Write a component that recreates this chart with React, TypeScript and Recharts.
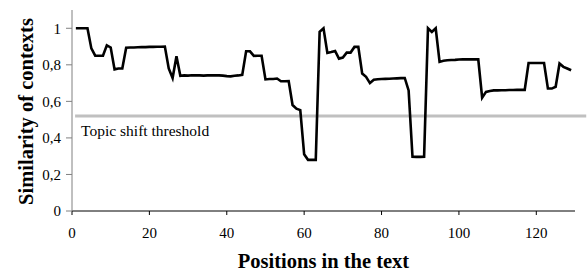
import React from 'react';
import { LineChart, Line, XAxis, YAxis, ReferenceLine } from 'recharts';

// similarity value at each position 1..129
const similarity = [
    1, 1, 1, 1, 0.89, 0.85, 0.85, 0.85, 0.907, 0.895,
    0.775, 0.78, 0.78, 0.894, 0.895, 0.895, 0.896, 0.897, 0.897, 0.898,
    0.898, 0.899, 0.899, 0.9, 0.78, 0.728, 0.847, 0.74, 0.742, 0.741,
    0.743, 0.742, 0.742, 0.741, 0.742, 0.743, 0.742, 0.742, 0.741, 0.738,
    0.737, 0.74, 0.742, 0.745, 0.874, 0.874, 0.849, 0.85, 0.85, 0.72,
    0.722, 0.722, 0.725, 0.71, 0.71, 0.711, 0.58, 0.56, 0.552, 0.31,
    0.28, 0.28, 0.28, 0.98, 1.0, 0.865, 0.87, 0.876, 0.834, 0.84,
    0.867, 0.867, 0.898, 0.898, 0.752, 0.734, 0.7, 0.718, 0.721, 0.722,
    0.723, 0.724, 0.725, 0.726, 0.727, 0.728, 0.66, 0.297, 0.296, 0.296,
    0.297, 1.0, 0.98, 1.0, 0.816, 0.822, 0.825, 0.826, 0.827, 0.829,
    0.83, 0.83, 0.83, 0.83, 0.83, 0.62, 0.652, 0.657, 0.66, 0.66,
    0.661, 0.661, 0.662, 0.662, 0.663, 0.663, 0.663, 0.81, 0.81, 0.81,
    0.81, 0.81, 0.67, 0.67, 0.68, 0.807, 0.789, 0.78, 0.77,
];

const xTicks = [0, 20, 40, 60, 80, 100, 120];
const yTicks = [0, 0.2, 0.4, 0.6, 0.8, 1];
const threshold = 0.52;
const thresholdSpan = [0.8, 132.9];

const data = similarity.map((v, i) => ({ pos: i + 1, sim: v }));

const FONT = "'Liberation Serif', 'Times New Roman', serif";

const fmtY = (v: number) => String(Math.round(v * 10) / 10).replace('.', ',');

const tickStyle = { fill: '#000', fontSize: 15, fontFamily: FONT };

export default function App() {
    return (
        <div style={{ position: 'absolute', left: 0, top: 0, background: '#fff', fontFamily: FONT }}>
            <LineChart
                width={587}
                height={274}
                data={data}
                margin={{ top: 10, right: 12, left: 0, bottom: 33 }}
                style={{ fontFamily: FONT }}
            >
                <XAxis
                    dataKey="pos"
                    type="number"
                    domain={[0, 130]}
                    ticks={xTicks}
                    height={30}
                    stroke="#000"
                    tickSize={4}
                    tickMargin={12}
                    tick={tickStyle}
                    label={{
                        content: ({ viewBox }: any) => (
                            <text
                                x={viewBox.x + viewBox.width / 2}
                                y={viewBox.y + 57}
                                textAnchor="middle"
                                fontSize={20.5}
                                fontWeight="bold"
                                style={{ fontFamily: FONT }}
                                fill="#000"
                            >
                                Positions in the text
                            </text>
                        ),
                    }}
                />
                <YAxis
                    type="number"
                    domain={[0, 1.1]}
                    ticks={yTicks}
                    width={72}
                    stroke="#808080"
                    tickSize={6}
                    tickMargin={5}
                    tickFormatter={fmtY}
                    tick={tickStyle}
                    label={{
                        content: ({ viewBox }: any) => {
                            const cx = 33;
                            const cy = viewBox.y + viewBox.height / 2 + 1;
                            return (
                                <text
                                    x={cx}
                                    y={cy}
                                    transform={`rotate(-90, ${cx}, ${cy})`}
                                    textAnchor="middle"
                                    fontSize={20.5}
                                    fontWeight="bold"
                                    style={{ fontFamily: FONT }}
                                    fill="#000"
                                >
                                    Similarity of contexts
                                </text>
                            );
                        },
                    }}
                />
                <ReferenceLine
                    segment={[
                        { x: thresholdSpan[0], y: threshold },
                        { x: thresholdSpan[1], y: threshold },
                    ]}
                    ifOverflow="visible"
                    stroke="#c0c0c0"
                    strokeWidth={3}
                    label={{
                        content: ({ viewBox }: any) => (
                            <text
                                x={viewBox.x + 6}
                                y={viewBox.y + 20}
                                fontSize={15.5}
                                style={{ fontFamily: FONT }}
                                fill="#000"
                            >
                                Topic shift threshold
                            </text>
                        ),
                    }}
                />
                <Line
                    type="linear"
                    dataKey="sim"
                    stroke="#000"
                    strokeWidth={2.6}
                    dot={false}
                    isAnimationActive={false}
                />
            </LineChart>
        </div>
    );
}
